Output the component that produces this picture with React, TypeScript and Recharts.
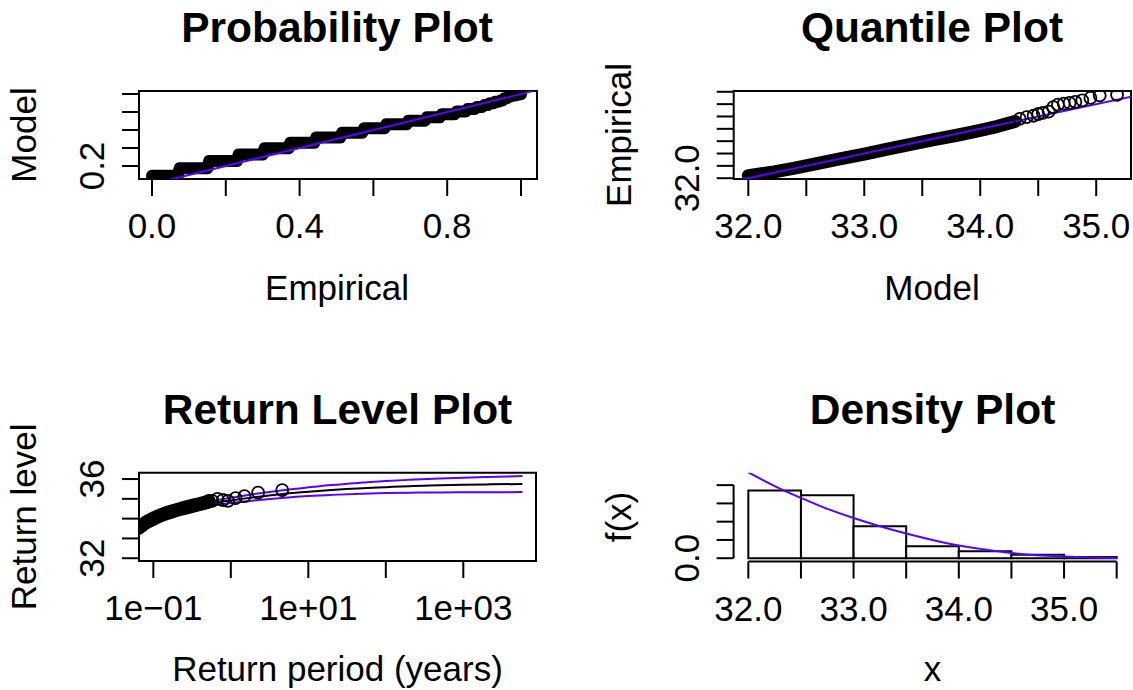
import React from 'react';
import { ComposedChart, Line, Scatter, XAxis, YAxis, ReferenceArea, ReferenceLine } from 'recharts';

const FONT = '"Liberation Sans", Arial, Helvetica, sans-serif';
const BLUE = '#5b00ff';
const LABEL_SIZE = 35;
const TITLE_SIZE = 42.5;

// ---- Probability plot (empirical vs model probabilities, one step per data value)
const probModel = [0.092, 0.176, 0.255, 0.328, 0.396, 0.459, 0.517, 0.57, 0.619, 0.663, 0.704, 0.741, 0.775, 0.805, 0.832, 0.856, 0.878, 0.897, 0.914, 0.929, 0.952, 0.97, 0.982, 0.99, 0.995, 0.997];
const probEmpStart = [0.0, 0.075, 0.155, 0.235, 0.305, 0.375, 0.445, 0.515, 0.575, 0.635, 0.695, 0.745, 0.785, 0.825, 0.855, 0.88, 0.9, 0.915, 0.93, 0.945, 0.955, 0.966, 0.976, 0.985, 0.992, 0.998];
const probEmpEnd = [0.07, 0.15, 0.23, 0.3, 0.37, 0.44, 0.51, 0.57, 0.63, 0.69, 0.74, 0.78, 0.82, 0.85, 0.875, 0.895, 0.91, 0.925, 0.94, 0.95, 0.962, 0.972, 0.982, 0.99, 0.996, 1.0];
const probXTicks = [0, 0.2, 0.4, 0.6, 0.8, 1.0];
const probXLabels = ['0.0', '', '0.4', '', '0.8', ''];
const probYTicks = [0.2, 0.4, 0.6, 0.8, 1.0];
const probYLabels = ['0.2', '', '', '', ''];

// ---- Quantile plot (model quantile vs empirical)
const qqBandModel = [32.0, 32.2, 32.4, 32.6, 32.8, 33.0, 33.2, 33.4, 33.6, 33.8, 34.0, 34.15, 34.3];
const qqBandEmp = [32.1, 32.24, 32.41, 32.6, 32.79, 32.98, 33.18, 33.37, 33.56, 33.74, 33.94, 34.1, 34.3];
const qqTailModel = [34.34, 34.4, 34.46, 34.5, 34.54, 34.59, 34.63, 34.67, 34.72, 34.77, 34.82, 34.88, 34.95, 35.03, 35.18];
const qqTailEmp = [34.4, 34.47, 34.53, 34.6, 34.65, 34.7, 34.88, 34.98, 35.02, 35.05, 35.09, 35.15, 35.25, 35.35, 35.38];
const qqXTicks = [32.0, 32.5, 33.0, 33.5, 34.0, 34.5, 35.0];
const qqXLabels = ['32.0', '', '33.0', '', '34.0', '', '35.0'];
const qqYTicks = [32.0, 32.5, 33.0, 33.5, 34.0, 34.5, 35.0, 35.5];
const qqYLabels = ['32.0', '', '', '', '', '', '', ''];

// ---- Return level plot
const rlPeriods = [0.05, 0.065, 0.1, 0.15, 0.2, 0.3, 0.5, 0.7, 1, 2, 5, 10, 20, 50, 100, 200, 500, 1000, 2000, 5800];
const rlLevel = [33.2, 33.55, 33.95, 34.22, 34.4, 34.58, 34.75, 34.84, 34.92, 35.08, 35.26, 35.36, 35.45, 35.54, 35.59, 35.64, 35.68, 35.71, 35.73, 35.75];
const rlUpper = [33.25, 33.6, 34.0, 34.28, 34.46, 34.66, 34.85, 34.95, 35.05, 35.24, 35.45, 35.58, 35.7, 35.82, 35.9, 35.96, 36.03, 36.07, 36.1, 36.15];
const rlLower = [33.15, 33.5, 33.9, 34.16, 34.33, 34.5, 34.65, 34.72, 34.79, 34.92, 35.06, 35.14, 35.2, 35.26, 35.29, 35.31, 35.32, 35.33, 35.335, 35.34];
const rlBandPeriod = [0.05, 0.065, 0.08, 0.1, 0.13, 0.17, 0.22, 0.3, 0.4, 0.5];
const rlBandLevel = [33.3, 33.55, 33.8, 34.0, 34.2, 34.35, 34.48, 34.62, 34.74, 34.84];
const rlObsPeriod = [0.52, 0.575, 0.67, 0.79, 0.92, 1.15, 1.5, 2.25, 4.6];
const rlObsLevel = [34.9, 34.9, 35.0, 34.94, 34.9, 35.04, 35.14, 35.31, 35.44];
const rlXTicks = [0.1, 1, 10, 100, 1000];
const rlXLabels = ['1e\u221201', '', '1e+01', '', '1e+03'];
const rlYTicks = [32, 33, 34, 35, 36];
const rlYLabels = ['32', '', '', '', '36'];

// ---- Density plot
const histEdges = [32.0, 32.5, 33.0, 33.5, 34.0, 34.5, 35.0, 35.5];
const histDensity = [0.74, 0.69, 0.35, 0.13, 0.075, 0.038, 0.012];
const densX = [32.0, 32.25, 32.5, 32.75, 33.0, 33.25, 33.5, 33.75, 34.0, 34.25, 34.5, 34.75, 35.0, 35.25, 35.5];
const densY = [0.94, 0.79, 0.66, 0.54, 0.44, 0.35, 0.27, 0.2, 0.14, 0.095, 0.057, 0.032, 0.018, 0.008, 0.002];
const densXTicks = [32.0, 32.5, 33.0, 33.5, 34.0, 34.5, 35.0, 35.5];
const densXLabels = ['32.0', '', '33.0', '', '34.0', '', '35.0', ''];
const densYTicks = [0, 0.2, 0.4, 0.6, 0.8];
const densYLabels = ['0.0', '', '', '', ''];

const probBand = probModel.flatMap((m, i) => [
  { x: probEmpStart[i], y: m },
  { x: probEmpEnd[i], y: m },
]);
const qqBand = qqBandModel.map((x, i) => ({ x, y: qqBandEmp[i] }));
const qqTail = qqTailModel.map((x, i) => ({ x, y: qqTailEmp[i] }));
const rlMain = rlPeriods.map((x, i) => ({ x, y: rlLevel[i] }));
const rlHi = rlPeriods.map((x, i) => ({ x, y: rlUpper[i] }));
const rlLo = rlPeriods.map((x, i) => ({ x, y: rlLower[i] }));
const rlBand = rlBandPeriod.map((x, i) => ({ x, y: rlBandLevel[i] }));
const rlObs = rlObsPeriod.map((x, i) => ({ x, y: rlObsLevel[i] }));
const densCurve = densX.map((x, i) => ({ x, y: densY[i] }));

const TICK = 17;

const xTick = (ticks: number[], labels: string[]) => (props: any) => {
  const i = ticks.findIndex((t) => Math.abs(t - props.payload.value) < 1e-9);
  const label = i >= 0 ? labels[i] : '';
  return (
    <text x={props.x} y={props.y + 42} textAnchor="middle" fontFamily={FONT} fontSize={LABEL_SIZE} fill="#000">
      {label}
    </text>
  );
};

const yTick = (ticks: number[], labels: string[]) => (props: any) => {
  const i = ticks.findIndex((t) => Math.abs(t - props.payload.value) < 1e-9);
  const label = i >= 0 ? labels[i] : '';
  const bx = props.x - 18;
  return (
    <text
      x={bx}
      y={props.y}
      transform={`rotate(-90, ${bx}, ${props.y})`}
      textAnchor="middle"
      fontFamily={FONT}
      fontSize={LABEL_SIZE}
      fill="#000"
    >
      {label}
    </text>
  );
};

const openCircle = (props: any) => (
  <circle cx={props.cx} cy={props.cy} r={6} fill="none" stroke="#000" strokeWidth={1.8} />
);

const tickLine = { stroke: '#000', strokeWidth: 2 };

function Title({ x, y, text }: { x: number; y: number; text: string }) {
  return (
    <text x={x} y={y} textAnchor="middle" fontFamily={FONT} fontSize={TITLE_SIZE} fontWeight="bold" fill="#000">
      {text}
    </text>
  );
}

function AxisTitle({ x, y, text, rotate }: { x: number; y: number; text: string; rotate?: boolean }) {
  return (
    <text
      x={x}
      y={y}
      transform={rotate ? `rotate(-90, ${x}, ${y})` : undefined}
      textAnchor="middle"
      fontFamily={FONT}
      fontSize={LABEL_SIZE}
      fill="#000"
    >
      {text}
    </text>
  );
}

const W = 566;
const H = 345;

export default function App() {
  return (
    <div style={{ position: 'fixed', left: 0, top: 0, width: 1133, height: 690, background: '#fff', overflow: 'hidden' }}>
      {/* Probability plot */}
      <div style={{ position: 'absolute', left: 0, top: 0 }}>
        <ComposedChart width={W} height={H} margin={{ top: 91, right: 29, bottom: 0, left: 0 }}>
          <XAxis
            type="number"
            dataKey="x"
            domain={[-0.0352, 1.0434]}
            ticks={probXTicks}
            interval={0}
            allowDataOverflow
            height={166}
            tickSize={TICK}
            tickMargin={0}
            axisLine={false}
            tickLine={tickLine}
            tick={xTick(probXTicks, probXLabels)}
          />
          <YAxis
            type="number"
            dataKey="y"
            domain={[0.0556, 1.0333]}
            ticks={probYTicks}
            interval={0}
            allowDataOverflow
            width={139}
            tickSize={TICK}
            tickMargin={0}
            axisLine={false}
            tickLine={tickLine}
            tick={yTick(probYTicks, probYLabels)}
          />
          <Line
            data={probBand}
            dataKey="y"
            stroke="#000"
            strokeWidth={12}
            strokeLinecap="round"
            strokeLinejoin="round"
            dot={false}
            isAnimationActive={false}
          />
          <Line
            data={[{ x: -0.1, y: -0.1 }, { x: 1.1, y: 1.1 }]}
            dataKey="y"
            stroke={BLUE}
            strokeWidth={2}
            dot={false}
            isAnimationActive={false}
          />
          <ReferenceArea x1={-0.0352} x2={1.0434} y1={0.0556} y2={1.0333} fill="none" stroke="#000" strokeWidth={2} ifOverflow="visible" />
        </ComposedChart>
      </div>

      {/* Quantile plot */}
      <div style={{ position: 'absolute', left: 566, top: 0 }}>
        <ComposedChart width={W} height={H} margin={{ top: 91, right: 1, bottom: 0, left: 0 }}>
          <XAxis
            type="number"
            dataKey="x"
            domain={[31.874, 35.3]}
            ticks={qqXTicks}
            interval={0}
            allowDataOverflow
            height={166}
            tickSize={TICK}
            tickMargin={0}
            axisLine={false}
            tickLine={tickLine}
            tick={xTick(qqXTicks, qqXLabels)}
          />
          <YAxis
            type="number"
            dataKey="y"
            domain={[31.968, 35.532]}
            ticks={qqYTicks}
            interval={0}
            allowDataOverflow
            width={167.7}
            tickSize={TICK}
            tickMargin={0}
            axisLine={false}
            tickLine={tickLine}
            tick={yTick(qqYTicks, qqYLabels)}
          />
          <Line
            data={qqBand}
            dataKey="y"
            stroke="#000"
            strokeWidth={13}
            strokeLinecap="round"
            strokeLinejoin="round"
            dot={false}
            isAnimationActive={false}
          />
          <Scatter data={qqTail} dataKey="y" shape={openCircle} isAnimationActive={false} />
          <Line
            data={[{ x: 31.5, y: 31.5 }, { x: 36, y: 36 }]}
            dataKey="y"
            stroke={BLUE}
            strokeWidth={2}
            dot={false}
            isAnimationActive={false}
          />
          <ReferenceArea x1={31.874} x2={35.3} y1={31.968} y2={35.532} fill="none" stroke="#000" strokeWidth={2} ifOverflow="visible" />
        </ComposedChart>
      </div>

      {/* Return level plot */}
      <div style={{ position: 'absolute', left: 0, top: 345 }}>
        <ComposedChart width={W} height={H} margin={{ top: 127.7, right: 30, bottom: 0, left: 0 }}>
          <XAxis
            type="number"
            dataKey="x"
            scale="log"
            domain={[0.0653, 8670]}
            ticks={rlXTicks}
            interval={0}
            allowDataOverflow
            height={129}
            tickSize={TICK}
            tickMargin={0}
            axisLine={false}
            tickLine={tickLine}
            tick={xTick(rlXTicks, rlXLabels)}
          />
          <YAxis
            type="number"
            dataKey="y"
            domain={[31.86, 36.32]}
            ticks={rlYTicks}
            interval={0}
            allowDataOverflow
            width={139}
            tickSize={TICK}
            tickMargin={0}
            axisLine={false}
            tickLine={tickLine}
            tick={yTick(rlYTicks, rlYLabels)}
          />
          <Line data={rlMain} dataKey="y" stroke="#000" strokeWidth={2} dot={false} type="monotone" isAnimationActive={false} />
          <Line data={rlHi} dataKey="y" stroke={BLUE} strokeWidth={2} dot={false} type="monotone" isAnimationActive={false} />
          <Line data={rlLo} dataKey="y" stroke={BLUE} strokeWidth={2} dot={false} type="monotone" isAnimationActive={false} />
          <Line
            data={rlBand}
            dataKey="y"
            stroke="#000"
            strokeWidth={14}
            strokeLinecap="round"
            strokeLinejoin="round"
            dot={false}
            type="monotone"
            isAnimationActive={false}
          />
          <Scatter data={rlObs} dataKey="y" shape={openCircle} isAnimationActive={false} />
          <ReferenceArea x1={0.0653} x2={8670} y1={31.86} y2={36.32} fill="none" stroke="#000" strokeWidth={2} ifOverflow="visible" />
        </ComposedChart>
      </div>

      {/* Density plot */}
      <div style={{ position: 'absolute', left: 566, top: 345 }}>
        <ComposedChart width={W} height={H} margin={{ top: 127.7, right: 0.6, bottom: 0, left: 0 }}>
          <XAxis
            type="number"
            dataKey="x"
            domain={[31.86, 35.64]}
            ticks={densXTicks}
            interval={0}
            allowDataOverflow
            height={128.5}
            tickSize={TICK}
            tickMargin={0}
            axisLine={false}
            tickLine={tickLine}
            tick={xTick(densXTicks, densXLabels)}
          />
          <YAxis
            type="number"
            dataKey="y"
            domain={[-0.036, 0.936]}
            ticks={densYTicks}
            interval={0}
            allowDataOverflow
            width={167.6}
            tickSize={TICK}
            tickMargin={0}
            axisLine={false}
            tickLine={tickLine}
            tick={yTick(densYTicks, densYLabels)}
          />
          {histDensity.map((d, i) => (
            <ReferenceArea
              key={i}
              x1={histEdges[i]}
              x2={histEdges[i + 1]}
              y1={0}
              y2={d}
              fill="#fff"
              fillOpacity={1}
              stroke="#000"
              strokeWidth={2}
              ifOverflow="visible"
            />
          ))}
          <Line data={densCurve} dataKey="y" stroke={BLUE} strokeWidth={2} dot={false} type="monotone" isAnimationActive={false} />
          <ReferenceLine segment={[{ x: 31.86, y: 0 }, { x: 31.86, y: 0.8 }]} stroke="#000" strokeWidth={2} ifOverflow="visible" />
          <ReferenceLine segment={[{ x: 32.0, y: -0.036 }, { x: 35.5, y: -0.036 }]} stroke="#000" strokeWidth={2} ifOverflow="visible" />
        </ComposedChart>
      </div>

      <svg width={1133} height={690} style={{ position: 'absolute', left: 0, top: 0, pointerEvents: 'none' }}>
        <Title x={337} y={42} text="Probability Plot" />
        <Title x={932} y={42} text="Quantile Plot" />
        <Title x={337.5} y={423.7} text="Return Level Plot" />
        <Title x={932.5} y={423.7} text="Density Plot" />
        <AxisTitle x={337} y={300} text="Empirical" />
        <AxisTitle x={932} y={300} text="Model" />
        <AxisTitle x={337.5} y={681} text="Return period (years)" />
        <AxisTitle x={932.5} y={681} text="x" />
        <AxisTitle x={36} y={135} text="Model" rotate />
        <AxisTitle x={631} y={135} text="Empirical" rotate />
        <AxisTitle x={36} y={516.9} text="Return level" rotate />
        <AxisTitle x={631} y={517} text="f(x)" rotate />
      </svg>
    </div>
  );
}
